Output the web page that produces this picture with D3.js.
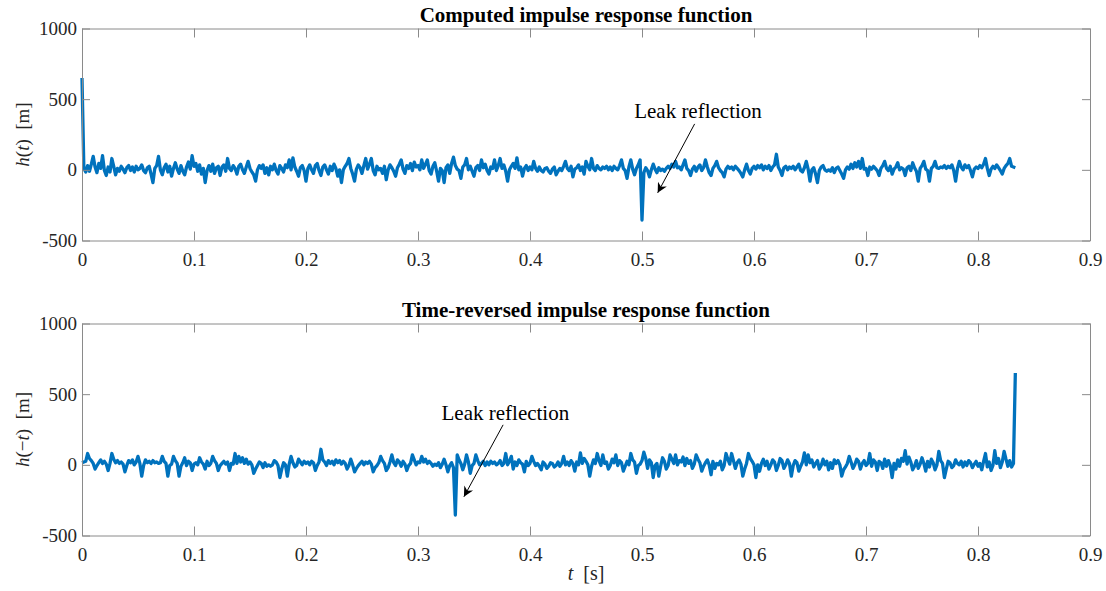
<!DOCTYPE html>
<html>
<head>
<meta charset="utf-8">
<script src="https://cdn.jsdelivr.net/npm/d3@7"></script>
<style>
  body { margin: 0; background: #fff; }
  svg text { font-family: "Liberation Serif", "Times New Roman", "DejaVu Serif", serif; }
  .axis .domain, .axis line { stroke: #8a8a8a; stroke-width: 1; }
  .axis text { fill: #262626; font-size: 19px; }
</style>
</head>
<body>
<svg id="vis"></svg>
<script>
const sampleRate = 600;
const hValues = [
  650, 10, -15, 30, -10, 40, 95, 20, -20, 45, 10, 100, -5, -40, 20, -15, 80, 25, -35, 10,
  -10, 25, 5, -20, 15, 30, -5, 20, -15, 25, 0, 10, 35, -5, -20, 15, 25, -30, -90, 10,
  30, 95, 0, -35, 15, 40, -15, 25, -45, 10, 50, 5, -25, 30, -10, -35, 20, 55, 5, 100,
  25, 45, -10, 35, -30, 10, -90, -5, 30, -10, 40, -25, 15, 25, -40, 20, 35, -10, 80, 10,
  -5, 30, 10, -30, 25, 40, 0, -25, 20, 60, 10, -15, -35, -80, 0, 30, 10, 35, -25, 15,
  -35, 25, 0, 40, -5, -30, 30, 10, -15, 35, 15, 70, 0, 85, 20, -10, -45, 15, 30, -5,
  -80, 10, 35, 0, -25, 30, 45, -5, -40, 20, 35, 0, -30, 25, -5, 40, 10, -45, 0, -90,
  0, 25, 45, 80, 10, -30, -80, 5, 35, 15, -25, 30, 80, 5, 40, 80, -5, -35, 25, 0,
  10, -25, 25, -70, 0, 35, 15, -10, -45, 15, 40, 70, 5, -25, 30, 10, 45, -5, 55, 20,
  30, 0, 70, 10, 40, 70, -5, -30, 25, 50, -10, -80, 10, -5, -90, 15, 35, -25, 45, 90,
  30, 5, -5, -60, 20, 35, 80, 0, 25, -10, -45, 15, 30, -5, 70, 15, 40, -5, -30, 20,
  10, 70, -5, 30, 80, 10, 35, -10, -80, 0, 25, 45, 10, 85, 0, 20, -45, 10, 30, -5,
  20, 0, 60, 10, -10, 20, -5, -15, 10, 15, -10, -25, 5, 20, -35, -10, 10, -5, 25, 60,
  10, -5, 25, -50, 5, 15, 35, -5, 20, -30, 60, 25, 0, 80, 10, -5, 30, 10, 0, 20,
  10, 25, 0, 20, -5, 25, 10, 0, 30, 70, 10, -5, -60, 20, 70, 5, -35, 10, 35, 70,
  -355, -20, 15, -5, -50, 0, 40, 5, -20, 15, -5, 5, -10, 10, 25, 10, 40, 20, 60, 15,
  20, 0, 35, 70, 10, -5, -40, 5, 25, -10, 20, 35, -5, 15, 70, 20, -20, -40, 10, 30,
  60, 15, -5, -20, -50, 5, 25, 10, 20, 0, 25, 10, -5, -25, -50, 0, 40, -5, -30, 10,
  25, 5, 30, 15, 35, 0, 25, 10, 30, -5, 20, 35, 110, 20, -5, -40, 15, 25, 0, 20,
  10, 25, 0, 20, 40, -5, -15, 15, 60, 5, -80, 0, 15, -30, -90, -5, 20, 30, 0, -10,
  0, -10, 15, -20, 10, 20, -5, -30, -60, 0, 20, 5, 40, 10, 50, 20, 60, 10, 80, 5,
  10, -40, 20, 5, 25, 10, -5, -40, 10, 30, 60, 10, -5, 25, -30, 5, 20, 50, 0, 15,
  5, -40, 15, 25, -5, 50, 15, -10, -80, 10, 30, 60, 5, -5, -80, 10, 25, 60, 15, 10,
  20, 15, 30, 10, 25, 15, 35, -5, -80, 10, 60, 20, 0, 35, 15, 30, -5, -50, 5, 20,
  10, 30, 15, 40, 80, 10, -40, 5, 25, 10, 35, 15, -5, -30, 10, 30, 45, 80, 25, 20,
  15
];

const xTicks = [0, 0.1, 0.2, 0.3, 0.4, 0.5, 0.6, 0.7, 0.8, 0.9];
const yTicks = [-500, 0, 500, 1000];
const titles = ["Computed impulse response function", "Time-reversed impulse response function"];
const noteText = "Leak reflection";

let config = { svg: {}, plot: {}, panels: [] };

config.svg.width = 1106;
config.svg.height = 591;

config.plot.x = 82;
config.plot.width = 1008;
config.plot.height = 212;

// panel 0 = h(t), panel 1 = h(-t); note positions in data units
config.panels.push({ y: 28.5, note: { x: 0.55, y: 417, from: [0.547, 325], to: [0.514, -163] } });
config.panels.push({ y: 323.5, note: { x: 0.378, y: 368, from: [0.376, 283], to: [0.341, -226] } });

const svg = d3.select("svg#vis")
  .attr("width", config.svg.width)
  .attr("height", config.svg.height);

let defs = svg.append("defs");
defs.append("marker")
  .attr("id", "head")
  .attr("viewBox", "0 0 10 10")
  .attr("refX", 10)
  .attr("refY", 5)
  .attr("markerUnits", "userSpaceOnUse")
  .attr("markerWidth", 12)
  .attr("markerHeight", 10)
  .attr("orient", "auto")
  .append("path")
  .attr("d", "M0,0 L10,5 L0,10 L3,5 Z")
  .attr("fill", "#000");

let scale = {};
scale.x = d3.scaleLinear().domain([0, 0.9]).range([0, config.plot.width]);
scale.y = d3.scaleLinear().domain([-500, 1000]).range([config.plot.height, 0]);

let forward = hValues.map((v, i) => ({ t: i / sampleRate, h: v }));
let reversed = hValues.slice().reverse().map((v, i) => ({ t: i / sampleRate, h: v }));

let line = d3.line()
  .x(d => scale.x(d.t))
  .y(d => scale.y(d.h));

drawPanel(0, forward);
drawPanel(1, reversed);
drawLabels();

function drawPanel(index, data) {
  let panel = config.panels[index];
  let g = svg.append("g")
    .attr("transform", translate(config.plot.x, panel.y));

  g.append("path")
    .datum(data)
    .attr("d", line)
    .attr("fill", "none")
    .attr("stroke", "#0072BD")
    .attr("stroke-width", 3.3)
    .attr("stroke-linejoin", "round");

  g.append("g").attr("class", "axis")
    .attr("transform", translate(0, config.plot.height))
    .call(d3.axisBottom(scale.x).tickValues(xTicks).tickSizeInner(-9).tickSizeOuter(0)
      .tickPadding(12).tickFormat(d => d === 0 ? "0" : d3.format(".1f")(d)));

  g.append("g").attr("class", "axis")
    .call(d3.axisTop(scale.x).tickValues(xTicks).tickSizeInner(-9).tickSizeOuter(0).tickFormat(""));

  g.append("g").attr("class", "axis")
    .call(d3.axisLeft(scale.y).tickValues(yTicks).tickSizeInner(-8).tickSizeOuter(0)
      .tickPadding(5).tickFormat(d => d < 0 ? "-" + Math.abs(d) : d));

  g.append("g").attr("class", "axis")
    .attr("transform", translate(config.plot.width, 0))
    .call(d3.axisRight(scale.y).tickValues(yTicks).tickSizeInner(-8).tickSizeOuter(0).tickFormat(""));

  g.append("text")
    .attr("x", config.plot.width / 2)
    .attr("y", -7)
    .attr("text-anchor", "middle")
    .attr("font-size", "21px")
    .attr("font-weight", "bold")
    .attr("fill", "#000")
    .text(titles[index]);

  let note = panel.note;
  g.append("line")
    .attr("x1", scale.x(note.from[0]))
    .attr("y1", scale.y(note.from[1]))
    .attr("x2", scale.x(note.to[0]))
    .attr("y2", scale.y(note.to[1]))
    .attr("stroke", "#000")
    .attr("stroke-width", 1)
    .attr("marker-end", "url(#head)");

  g.append("text")
    .attr("x", scale.x(note.x))
    .attr("y", scale.y(note.y))
    .attr("text-anchor", "middle")
    .attr("dominant-baseline", "central")
    .attr("font-size", "21px")
    .attr("fill", "#000")
    .text(noteText);

  // y label, LaTeX style: italic h and t
  let label = svg.append("text")
    .attr("transform", translate(22, panel.y + config.plot.height / 2) + " rotate(-90)")
    .attr("text-anchor", "middle")
    .attr("dominant-baseline", "central")
    .attr("font-size", "19px")
    .attr("fill", "#262626");
  label.append("tspan").attr("font-style", "italic").text("h");
  label.append("tspan").text(index === 0 ? "(" : "(\u2212");
  label.append("tspan").attr("font-style", "italic").text("t");
  label.append("tspan").text(")\u2002[m]");
}

function drawLabels() {
  let xl = svg.append("text")
    .attr("x", config.plot.x + config.plot.width / 2)
    .attr("y", 580)
    .attr("text-anchor", "middle")
    .attr("font-size", "20px")
    .attr("fill", "#262626");
  xl.append("tspan").attr("font-style", "italic").text("t");
  xl.append("tspan").text("\u2002[s]");
}

function translate(x, y) {
  return 'translate(' + x + ',' + y + ')';
}
</script>
</body>
</html>
